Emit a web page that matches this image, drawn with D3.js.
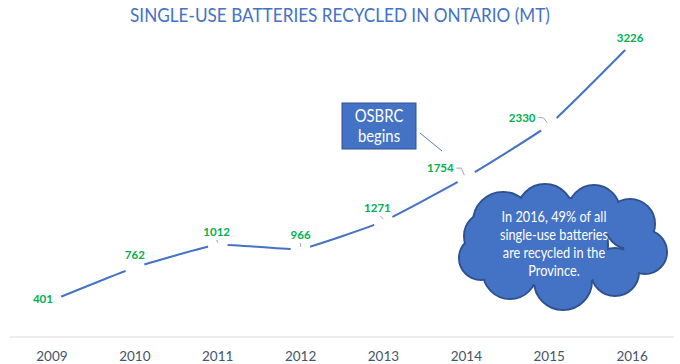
<!DOCTYPE html>
<html><head><meta charset="utf-8">
<script src="https://cdn.jsdelivr.net/npm/d3@7"></script>
<style>
html,body{margin:0;padding:0;background:#fff;}
svg{display:block;font-family:Lato,"Open Sans",sans-serif;}
</style></head>
<body>
<svg id="chart" width="680" height="364"></svg>
<script>
const years = ["2009","2010","2011","2012","2013","2014","2015","2016"];
const values = [401, 762, 1012, 966, 1271, 1754, 2330, 3226];
const title = "SINGLE-USE BATTERIES RECYCLED IN ONTARIO (MT)";
const calloutLines = ["OSBRC","begins"];
const cloudLines = ["In 2016, 49% of all","single-use batteries","are recycled in the","Province."];

const svg = d3.select("#chart");
const x = d3.scaleBand().domain(years).range([10.5, 673.5]);
const y = d3.scaleLinear().domain([0, 3500]).range([337, 18]);
const cx = d => x(d) + x.bandwidth()/2;
const pts = years.map((yr,i)=>({year:yr, value:values[i], px:cx(yr), py:y(values[i])}));

// narrow text to approximate Calibri widths
function narrow(sel, k){
  sel.each(function(){
    const w = this.getComputedTextLength();
    d3.select(this).attr("textLength", w*k).attr("lengthAdjust","spacingAndGlyphs");
  });
}

// title
svg.append("text").attr("x",340).attr("y",22).attr("text-anchor","middle")
  .attr("fill","#4472C4").attr("font-size",19.5).text(title)
  .call(narrow, 0.88);

// axis baseline
svg.append("line").attr("x1",10).attr("x2",674).attr("y1",y(0)).attr("y2",y(0))
  .attr("stroke","#D9D9D9").attr("stroke-width",1);
// year labels
const xAxis = d3.axisBottom(x).tickSize(0).tickPadding(0);
const ax = svg.append("g").attr("transform",`translate(0,${y(0)})`).call(xAxis);
ax.select(".domain").remove();
ax.selectAll("text").attr("y",24).attr("dy",0).attr("font-size",13.5)
  .attr("font-family","Lato, 'Open Sans', sans-serif").attr("fill","#44546A");

// mask for gaps around points
const defs = svg.append("defs");
const mask = defs.append("mask").attr("id","gapMask").attr("maskUnits","userSpaceOnUse")
  .attr("x",0).attr("y",0).attr("width",680).attr("height",364);
mask.append("rect").attr("width",680).attr("height",364).attr("fill","#fff");
mask.selectAll("circle").data(pts).join("circle")
  .attr("cx",d=>d.px).attr("cy",d=>d.py).attr("r",10).attr("fill","#000");

const line = d3.line().x(d=>d.px).y(d=>d.py).curve(d3.curveCardinal.tension(0.6));
svg.append("path").datum(pts).attr("d",line).attr("fill","none")
  .attr("stroke","#4472C4").attr("stroke-width",2).attr("mask","url(#gapMask)");

// data labels (offsets relative to each point)
const offs = [[-9,-1],[0,-13],[-1,-13],[0,-14],[-6,-13],[-26,-9],[-27,-7],[-2,-5]];
svg.append("g").selectAll("text").data(pts).join("text")
  .attr("x",(d,i)=>d.px+offs[i][0]).attr("y",(d,i)=>d.py+offs[i][1])
  .attr("dy","0.35em").attr("text-anchor","middle")
  .attr("font-size",11.5).attr("font-weight","bold").attr("fill","#00B050")
  .text(d=>d3.format("d")(d.value));

// leader lines
const lead = svg.append("g").attr("fill","none").attr("stroke","#A6A6A6").attr("stroke-width",1);
pts.forEach((d,i)=>{
  const [dx,dy] = offs[i];
  const lx = d.px+dx, ly = d.py+dy;
  if (dx < -15) {
    lead.append("path").attr("d",`M${lx+16},${ly} h5 L${d.px-2},${d.py-2}`);
  } else if (i>=2 && i<=4) {
    lead.append("path").attr("d",`M${lx+ (dx<-3?3:0)},${ly+8} L${d.px},${d.py-2}`);
  }
});

// OSBRC callout
svg.append("line").attr("x1",420).attr("y1",133).attr("x2",442).attr("y2",151)
  .attr("stroke","#5B7BC0").attr("stroke-width",1);
svg.append("rect").attr("x",342).attr("y",103).attr("width",74).attr("height",46)
  .attr("fill","#4472C4").attr("stroke","#2F528F").attr("stroke-width",1);
svg.append("g").selectAll("text").data(calloutLines).join("text")
  .attr("x",379).attr("y",(d,i)=>122+i*20).attr("text-anchor","middle")
  .attr("fill","#fff").attr("font-size",16.5).text(d=>d).call(narrow, 0.9);

// cloud
const lobes = [[503,222,30],[545,212,28],[594,211,26],[630,224,25],[645,252,22],
  [615,272,24],[563,281,29],[510,272,27],[481,258,22],[488,236,24],[560,245,48]];
const cloud = svg.append("g");
cloud.selectAll("circle.o").data(lobes).join("circle").attr("class","o")
  .attr("cx",d=>d[0]).attr("cy",d=>d[1]).attr("r",d=>d[2])
  .attr("fill","#4472C4").attr("stroke","#2F528F").attr("stroke-width",2);
cloud.selectAll("circle.i").data(lobes).join("circle").attr("class","i")
  .attr("cx",d=>d[0]).attr("cy",d=>d[1]).attr("r",d=>d[2]-1)
  .attr("fill","#4472C4");
cloud.selectAll("text").data(cloudLines).join("text")
  .attr("x",554).attr("y",(d,i)=>222+i*18).attr("text-anchor","middle")
  .attr("fill","#fff").attr("font-size",15).text(d=>d).call(narrow, 0.85);
</script>
</body></html>
